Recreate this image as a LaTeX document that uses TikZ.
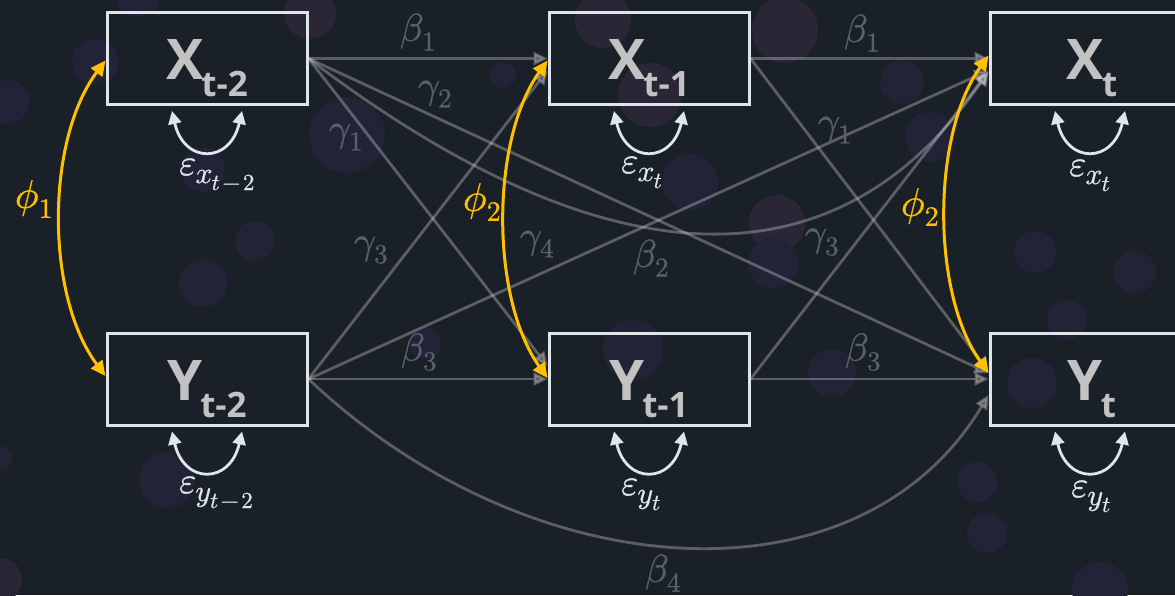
\documentclass[tikz,border=0pt]{standalone}
\usepackage{fontspec}
\usepackage{unicode-math}
\setmathfont{Latin Modern Math}[FakeBold=0.8]
\newfontfamily\boxfont{Open Sans}
\usetikzlibrary{arrows.meta,calc}
\definecolor{bgc}{HTML}{1A2027}
\definecolor{circa}{HTML}{232337}
\definecolor{circb}{HTML}{2A2636}
\definecolor{linec}{HTML}{D0D0D0}
\definecolor{labc}{HTML}{5A6067}
\definecolor{boxc}{HTML}{DDE6E8}
\definecolor{txtc}{HTML}{C2C2C2}
\definecolor{yelc}{HTML}{FFC000}
\newcommand\vlab[2]{{\boxfont\bfseries\fontsize{56}{60}\selectfont #1\kern-2pt\raisebox{-17pt}{\fontsize{35}{40}\selectfont #2}}}
\newcommand\epslab[2]{{\fontsize{37}{40}\selectfont$\varepsilon$}\kern-1pt\raisebox{-8pt}{\fontsize{30}{32}\selectfont$#1$\kern-1pt\raisebox{-7pt}{\fontsize{23}{26}\selectfont$#2$}}}
\begin{document}
\begin{tikzpicture}[x=1pt,y=-1pt,
  varbox/.style={draw=boxc, line width=3pt, minimum width=200pt, minimum height=92pt, inner sep=0pt},
  vtxt/.style={text=txtc, inner sep=0pt},
  glab/.style={text=labc, inner sep=0pt, font=\fontsize{39}{42}\selectfont},
  ylab/.style={text=yelc, inner sep=0pt, font=\fontsize{40}{44}\selectfont},
  elab/.style={text=boxc, inner sep=0pt, anchor=base west},
  regpath/.style={draw=linec, opacity=0.36, line width=2.8pt, -{Triangle[length=14pt,width=13pt]}},
  covar/.style={draw=yelc, line width=3pt, {Triangle[length=15pt,width=14pt]}-{Triangle[length=15pt,width=14pt]}},
  loopar/.style={draw=boxc, line width=2.8pt, {Triangle[length=13pt,width=13pt]}-{Triangle[length=13pt,width=13pt]}}
]
\useasboundingbox (0,0) rectangle (1175,595);
\clip (0,0) rectangle (1175,595);
\fill[bgc] (0,0) rectangle (1175,595);
% bokeh circles
\foreach \cx/\cy/\r/\c in {95/62/23/circa, 7/102/22/circa, 138/-5/22/circa, 310/13/26/circb,
  347/135/38/circa, 255/241/20/circa, 203/283/24/circa, 203/170/22/circa, 503/75/13/circa,
  603/20/28/circb, 650/95/32/circb, 690/182/28/circa, 785/30/33/circb, 902/82/22/circa,
  930/137/25/circa, 777/223/28/circb, 773/263/25/circa, 1035/252/21/circa, 1135/272/21/circa,
  0/458/12/circa, 0/580/22/circb, 167/480/28/circa, 633/350/30/circa, 425/343/16/circa,
  1067/320/20/circa, 1032/383/25/circa, 977/482/20/circa, 987/533/20/circa, 1100/590/28/circa,
  832/373/24/circa}
  \fill[\c] (\cx,\cy) circle[radius=\r];

% variable boxes
\node[varbox] (xtm2) at (207,58.5) {};
\node[varbox] (ytm2) at (207,379) {};
\node[varbox] (xtm1) at (649,58.5) {};
\node[varbox] (ytm1) at (649,379) {};
\node[varbox] (xt) at (1090,58.5) {};
\node[varbox] (yt) at (1090,379) {};

% regression paths
\draw[regpath] (xtm2.east) -- (xtm1.west);
\draw[regpath] (xtm2.east) -- ($(ytm1.west)+(0,-13)$);
\draw[regpath] (xtm2.east) -- ($(yt.west)+(0,-6)$);
\draw[regpath] (xtm2.east) .. controls +(213,162) and +(-189,273) .. ($(xt.west)+(0,13)$);
\draw[regpath] (ytm2.east) -- ($(xtm1.west)+(0,12)$);
\draw[regpath] (ytm2.east) -- ($(xt.west)+(0,12)$);
\draw[regpath] (ytm2.east) -- (ytm1.west);
\draw[regpath] (ytm2.east) .. controls +(223,211) and +(-129,215) .. ($(yt.west)+(0,16)$);
\draw[regpath] (xtm1.east) -- (xt.west);
\draw[regpath] (xtm1.east) -- ($(yt.west)+(0,-8)$);
\draw[regpath] (ytm1.east) -- ($(xt.west)+(0,13)$);
\draw[regpath] (ytm1.east) -- (yt.west);

% path labels
\node[glab] (lb1a) at (418,32) {$\beta_1$};
\node[glab] (lb1b) at (862,33) {$\beta_1$};
\node[glab] (lg2) at (435,94) {$\gamma_2$};
\node[glab] (lg1a) at (346,137) {$\gamma_1$};
\node[glab] (lg1b) at (835,130) {$\gamma_1$};
\node[glab] (lg3a) at (371,250) {$\gamma_3$};
\node[glab] (lg3b) at (822,242) {$\gamma_3$};
\node[glab] (lg4) at (537,244) {$\gamma_4$};
\node[glab] (lb2) at (651,258) {$\beta_2$};
\node[glab] (lb3a) at (419,352) {$\beta_3$};
\node[glab] (lb3b) at (863,352) {$\beta_3$};
\node[glab] (lb4) at (663,573) {$\beta_4$};

% covariances
\draw[covar] ($(xtm2.west)+(0,2)$) .. controls +(-60,80) and +(-60,-80) .. ($(ytm2.west)+(0,-3)$);
\draw[covar] ($(xtm1.west)+(0,2)$) .. controls +(-57,80) and +(-57,-80) .. ($(ytm1.west)+(0,-1)$);
\draw[covar] ($(xt.west)+(0,-3)$) .. controls +(-57,80) and +(-57,-80) .. ($(yt.west)+(0,-6)$);
\node[ylab] (lp1) at (34,199) {$\phi_1$};
\node[ylab] (lp2a) at (482,202) {$\phi_2$};
\node[ylab] (lp2b) at (920,207) {$\phi_2$};

% residual variances
\foreach \n in {xtm2,xtm1,xt,ytm2,ytm1,yt}
  \draw[loopar] ($(\n.south)+(-35,5)$) .. controls +(12,53) and +(-12,53) .. ($(\n.south)+(35,5)$);
\node[elab] (exa) at (179,175) {\epslab{x}{t\mkern2mu{-}\mkern2mu2}};
\node[elab] (exb) at (621,173) {\epslab{x}{t}};
\node[elab] (exc) at (1069,176) {\epslab{x}{t}};
\node[elab] (eya) at (179,493) {\epslab{y}{t\mkern2mu{-}\mkern2mu2}};
\node[elab] (eyb) at (621,495) {\epslab{y}{t}};
\node[elab] (eyc) at (1071,497) {\epslab{y}{t}};

% variable names
\node[vtxt] (xtm2l) at ($(xtm2)+(0,10)$) {\vlab{X}{t-2}};
\node[vtxt] (ytm2l) at ($(ytm2)+(0,10)$) {\vlab{Y}{t-2}};
\node[vtxt] (xtm1l) at ($(xtm1)+(0,10)$) {\vlab{X}{t-1}};
\node[vtxt] (ytm1l) at ($(ytm1)+(0,10)$) {\vlab{Y}{t-1}};
\node[vtxt] (xtl) at ($(xt)+(2,10)$) {\vlab{X}{t}};
\node[vtxt] (ytl) at ($(yt)+(2,10)$) {\vlab{Y}{t}};
\end{tikzpicture}
\end{document}
